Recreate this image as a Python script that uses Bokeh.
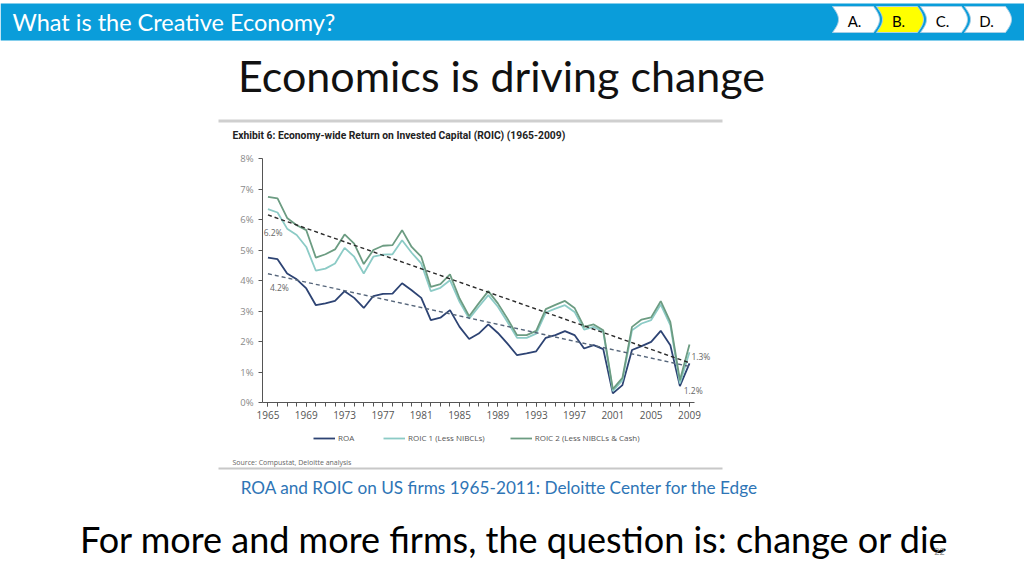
import numpy as np
from bokeh.plotting import figure
from bokeh.models import Range1d, FixedTicker, Legend, LegendItem, Spacer
from bokeh.layouts import column, row
from bokeh.embed import file_html
from bokeh.resources import INLINE
from bokeh.core.properties import value

# ---------------- data ----------------
years = list(range(1965, 2010))
roa = [4.75, 4.70, 4.23, 4.04, 3.74, 3.19, 3.25, 3.33, 3.65, 3.43,
       3.10, 3.49, 3.56, 3.57, 3.91, 3.68, 3.43, 2.70, 2.78, 3.03,
       2.48, 2.08, 2.26, 2.56, 2.28, 1.93, 1.55, 1.61, 1.68, 2.12,
       2.21, 2.34, 2.21, 1.77, 1.88, 1.75, 0.30, 0.57, 1.72, 1.85,
       1.99, 2.35, 1.88, 0.54, 1.28]
roic1 = [6.34, 6.23, 5.70, 5.49, 5.10, 4.32, 4.39, 4.56, 5.07, 4.78,
         4.23, 4.78, 4.85, 4.86, 5.32, 4.91, 4.56, 3.65, 3.76, 4.01,
         3.30, 2.75, 3.14, 3.52, 3.14, 2.64, 2.12, 2.12, 2.26, 2.95,
         3.08, 3.19, 2.97, 2.39, 2.48, 2.32, 0.37, 0.73, 2.37, 2.59,
         2.70, 3.21, 2.54, 0.62, 1.65]
roic2 = [6.74, 6.69, 6.05, 5.81, 5.65, 4.75, 4.86, 5.02, 5.51, 5.21,
         4.54, 5.00, 5.14, 5.16, 5.65, 5.10, 4.78, 3.79, 3.88, 4.20,
         3.41, 2.83, 3.25, 3.65, 3.25, 2.75, 2.21, 2.21, 2.35, 3.06,
         3.20, 3.33, 3.10, 2.48, 2.56, 2.37, 0.44, 0.81, 2.48, 2.72,
         2.79, 3.32, 2.64, 0.73, 1.90]
trend_years = [1965, 2009]
roic_trend = [6.15, 1.30]
roa_trend = [4.22, 1.18]

x_ticks = list(range(1965, 2010, 4))
x_tick_labels = [str(v) for v in x_ticks]
y_ticks = list(range(0, 9))
y_tick_labels = [f"{v}%" for v in y_ticks]
series_names = ["ROA", "ROIC 1 (Less NIBCLs)", "ROIC 2 (Less NIBCLs & Cash)"]
trend_labels = ["6.2%", "4.2%", "1.3%", "1.2%"]
trend_label_x = [1964.55, 1965.2, 2009.2, 2008.4]
trend_label_y = [5.59, 3.78, 1.50, 0.40]
nav_labels = ["A.", "B.", "C.", "D."]

header_text = "What is the Creative Economy?"
slide_title = "Economics is driving change"
chart_title = "Exhibit 6:  Economy-wide Return on Invested Capital (ROIC) (1965-2009)"
source_text = "Source: Compustat, Deloitte analysis"
caption = "ROA and ROIC on US firms 1965-2011: Deloitte Center for the Edge"
bottom_text = "For more and more firms, the question is: change or die"
slide_no = "22"

BLUE = "#0A9DDA"
FONT = "Lato"


def deco(width, height, x0, y0):
    f = figure(width=width, height=height,
               x_range=Range1d(x0, x0 + width), y_range=Range1d(y0 + height, y0),
               output_backend="svg", toolbar_location=None, min_border=0)
    f.xaxis.visible = False
    f.yaxis.visible = False
    f.grid.visible = False
    f.outline_line_color = None
    f.background_fill_color = "white"
    f.border_fill_color = "white"
    return f


# ---------------- header, slide title, exhibit title ----------------
head = deco(1024, 145, 0, 0)
head.quad(left=0, right=1024, top=3, bottom=40, fill_color=BLUE, line_color=None)
head.text(x=[12], y=[21], text=[header_text], text_font=value(FONT),
          text_font_size="23.5px", text_color="white", text_align="left",
          text_baseline="middle")

starts = [832, 876, 920, 964]
w, d = 41, 6
t = np.linspace(0, 1, 24)
pxs, pys = [], []
for s in starts:
    yy = 6 + 26 * t
    left = s + d * np.sin(np.pi * t)
    right = s + w + d * np.sin(np.pi * t)
    pxs.append(list(left) + list(right[::-1]))
    pys.append(list(yy) + list(yy[::-1]))
head.patches(pxs, pys, fill_color=["white", "#FFFF00", "white", "white"],
             line_color="#A9CFE6", line_width=1)
head.text(x=[s + 22 for s in starts], y=[20] * 4, text=nav_labels,
          text_font=value(FONT), text_font_size="15px", text_color="black",
          text_align="center", text_baseline="middle")

head.text(x=[501], y=[75], text=[slide_title], text_font=value(FONT),
          text_font_size="43px", text_color="#111111", text_align="center",
          text_baseline="middle")

head.quad(left=218, right=722, top=119, bottom=122, fill_color="#CFCFCF", line_color=None)
head.text(x=[232], y=[135], text=[chart_title], text_font=value("Roboto"),
          text_font_size="10.3px", text_font_style="bold", text_color="#222222",
          text_align="left", text_baseline="middle")

# ---------------- chart ----------------
# frame: 491 x 307 px; 9.58 px per year, 30.5 px per 1 %; axes pinned at (1964.43, 0 %)
PX_YEAR, PX_PCT = 9.58, 30.5
X0 = 1964.43
x_start = X0 - 37 / PX_YEAR
y_end = 8 + 10 / PX_PCT
p = figure(width=504, height=310,
           x_range=Range1d(x_start, x_start + 491 / PX_YEAR),
           y_range=Range1d(y_end - 307 / PX_PCT, y_end),
           min_border_left=7, min_border_right=6, min_border_top=3,
           min_border_bottom=0, output_backend="svg", toolbar_location=None)
p.grid.visible = False
p.outline_line_color = None
p.background_fill_color = "white"
p.border_fill_color = "white"

r_roa = p.line(years, roa, line_color="#2D4373", line_width=1.8)
r_r1 = p.line(years, roic1, line_color="#8CCBC6", line_width=1.8)
r_r2 = p.line(years, roic2, line_color="#6C9C82", line_width=1.8)
p.line(trend_years, roic_trend, line_color="#2A2A2A", line_width=1.4, line_dash="4 3")
p.line(trend_years, roa_trend, line_color="#55657A", line_width=1.4, line_dash="4 3")
p.text(x=trend_label_x, y=trend_label_y, text=trend_labels, text_font=value("Open Sans"),
       text_font_size="8.5px", text_color="#666666", text_align="left",
       text_baseline="middle")

xa = p.xaxis[0]
xa.fixed_location = 0
xa.ticker = FixedTicker(ticks=x_ticks, minor_ticks=years)
xa.major_label_overrides = dict(zip(x_ticks, x_tick_labels))
xa.bounds = (X0, 2009.57)
xa.major_tick_out = 4
xa.major_tick_in = 0
xa.minor_tick_out = 4
xa.minor_tick_in = 0
xa.major_label_standoff = 4
xa.axis_line_color = "#555555"
xa.major_tick_line_color = "#555555"
xa.minor_tick_line_color = "#555555"
xa.major_label_text_font = "Open Sans"
xa.major_label_text_font_size = "10px"
xa.major_label_text_color = "#555555"

ya = p.yaxis[0]
ya.fixed_location = X0
ya.ticker = FixedTicker(ticks=y_ticks, minor_ticks=[])
ya.major_label_overrides = dict(zip(y_ticks, y_tick_labels))
ya.bounds = (0, 8)
ya.major_tick_out = 4
ya.major_tick_in = 0
ya.minor_tick_line_color = None
ya.major_label_standoff = 5
ya.axis_line_color = "#555555"
ya.major_tick_line_color = "#555555"
ya.major_label_text_font = "Open Sans"
ya.major_label_text_font_size = "9.5px"
ya.major_label_text_color = "#8A8A8A"

legend = Legend(items=[LegendItem(label=series_names[0], renderers=[r_roa]),
                       LegendItem(label=series_names[1], renderers=[r_r1]),
                       LegendItem(label=series_names[2], renderers=[r_r2])],
                orientation="horizontal", location=(88, 12),
                label_text_font="Open Sans", label_text_font_size="8px",
                label_text_color="#555555", glyph_width=22, glyph_height=10,
                label_height=10, label_standoff=3, spacing=25, padding=0,
                margin=0, border_line_color=None, background_fill_alpha=0)
p.add_layout(legend)

# ---------------- source, caption, bottom text ----------------
bot = deco(1024, 121, 0, 455)
bot.text(x=[232], y=[462], text=[source_text], text_font=value("Open Sans"),
         text_font_size="7px", text_color="#666666", text_align="left",
         text_baseline="middle")
bot.quad(left=218, right=722, top=467, bottom=469, fill_color="#C8C8C8", line_color=None)
bot.text(x=[499], y=[487], text=[caption], text_font=value(FONT),
         text_font_size="17.2px", text_color="#2E75B6", text_align="center",
         text_baseline="middle")
bot.text(x=[514], y=[538], text=[bottom_text], text_font=value(FONT),
         text_font_size="36px", text_color="#000000", text_align="center",
         text_baseline="middle")
bot.text(x=[939], y=[551], text=[slide_no], text_font=value(FONT),
         text_font_size="9px", text_color="#8A8A8A", text_align="center",
         text_baseline="middle")

layout = column(head,
                row(Spacer(width=218, height=310), p, Spacer(width=302, height=310)),
                bot)

open("out.html", "w").write(file_html(layout, INLINE))
